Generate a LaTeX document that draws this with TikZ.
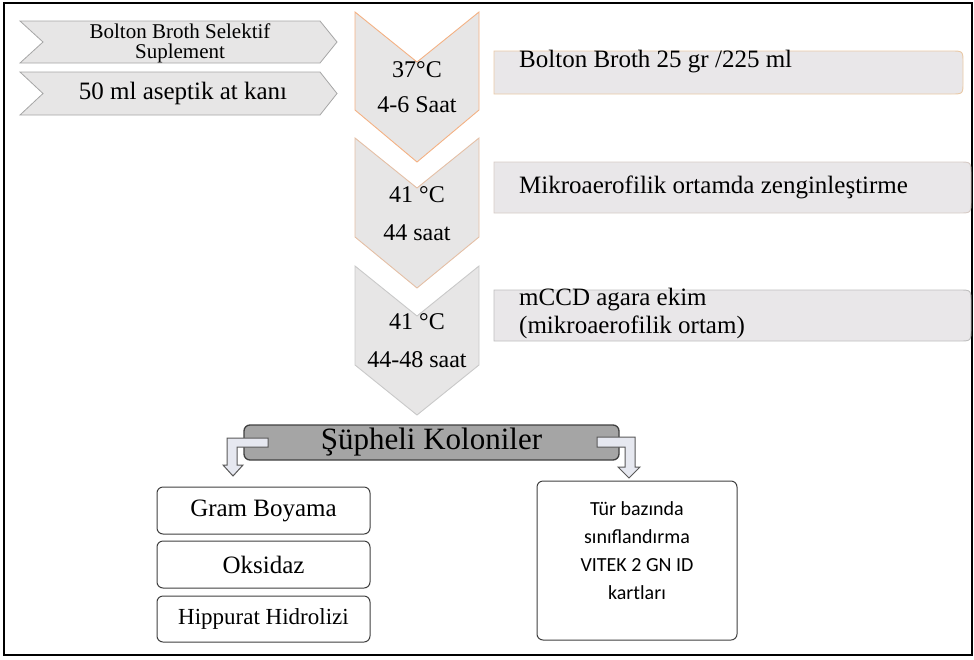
\documentclass[tikz,border=0pt]{standalone}
\usepackage{fontspec}
\setmainfont{Liberation Serif}
\newfontfamily\calibrifont{Carlito}
\usepackage{tikz}
\usetikzlibrary{positioning}

\definecolor{chevgray}{HTML}{E7E6E6}
\definecolor{hchevline}{HTML}{A6A6A6}
\definecolor{vlineone}{HTML}{F4B183}
\definecolor{vlinetwo}{HTML}{E4BFA5}
\definecolor{vlinethree}{HTML}{C9C9C9}
\definecolor{boxgray}{HTML}{E9E7E9}
\definecolor{boxlineone}{HTML}{E9C9A6}
\definecolor{boxlinetwo}{HTML}{D6CBC6}
\definecolor{boxlinethree}{HTML}{BFBFBF}
\definecolor{suspgray}{HTML}{A5A5A5}
\definecolor{darkline}{HTML}{404040}
\definecolor{arrowfill}{HTML}{E6E8F0}
\definecolor{arrowline}{HTML}{595959}

\tikzset{
  hchev/.style={fill=chevgray, draw=hchevline, line width=0.8pt},
  vchev/.style={fill=chevgray, line width=0.9pt},
  chevtext/.style={inner sep=0pt, align=center, font=\fontsize{24}{35}\selectfont},
  sidebox/.style={fill=boxgray, line width=0.9pt},
  sidetext/.style={anchor=west, inner sep=0pt, align=left, font=\fontsize{25}{28}\selectfont},
  testbox/.style={draw=darkline, fill=white, rounded corners=6pt, line width=1pt,
    minimum width=213pt, minimum height=47pt, inner sep=0pt, font=\fontsize{25}{28}\selectfont},
  bentarrow/.style={fill=arrowfill, draw=arrowline, line width=1pt, line join=miter},
}

\begin{document}
\begin{tikzpicture}[x=1pt,y=-1pt]
    \useasboundingbox (0,0) rectangle (974,659);
    \draw[line width=1.2pt] (4,3) rectangle (972,655);

    % supplements
    \draw[hchev] (20,21)--(320,21)--(337,42)--(320,63)--(20,63)--(43,42)--cycle;
    \draw[hchev] (20,72)--(320,72)--(337,93.5)--(320,115)--(20,115)--(43,93.5)--cycle;
    \node[inner sep=0pt, align=center, font=\fontsize{21}{20}\selectfont] (supp) at (180,43) {Bolton Broth Selektif\\Suplement};
    \node[inner sep=0pt, font=\fontsize{25}{28}\selectfont] (blood) at (183,93) {50 ml aseptik at kanı};

    % incubation steps
    \draw[vchev, draw=vlineone] (355,12)--(417,62)--(479,12)--(479,110)--(417,162)--(355,110)--cycle;
    \draw[vchev, draw=vlinetwo] (355,138)--(417,188)--(479,138)--(479,237)--(417,288)--(355,237)--cycle;
    \draw[vchev, draw=vlinethree] (355,266)--(417,316)--(479,266)--(479,365)--(417,415)--(355,365)--cycle;
    \node[chevtext] (incone) at (417,87.5) {37°C\\4-6 Saat};
    \node[chevtext] (inctwo) at (417,214) {41 °C\\[3pt]44 saat};
    \node[chevtext] (incthree) at (417,341) {41 °C\\[3pt]44-48 saat};

    % media
    \draw[sidebox, draw=boxlineone] (494,51)--(951,51) .. controls (963,51) .. (963,63)--(963,82) .. controls (963,94) .. (951,94)--(494,94)--cycle;
    \draw[sidebox, draw=boxlinetwo] (494,162)--(959,162) .. controls (971,162) .. (971,174)--(971,201) .. controls (971,213) .. (959,213)--(494,213)--cycle;
    \draw[sidebox, draw=boxlinethree] (494,290)--(959,290) .. controls (971,290) .. (971,302)--(971,329) .. controls (971,341) .. (959,341)--(494,341)--cycle;
    \node[sidetext] (broth) at (519,62) {Bolton Broth 25 gr /225 ml};
    \node[sidetext] (micro) at (519,187) {Mikroaerofilik ortamda zenginleştirme};
    \node[sidetext] (agar) at (519,313) {mCCD agara ekim\\(mikroaerofilik ortam)};

    % colonies
    \node[draw=darkline, fill=suspgray, rounded corners=6pt, line width=1.3pt, minimum width=375pt,
      minimum height=35pt, inner sep=0pt, font=\fontsize{31}{34}\selectfont] (susp) at (431.5,442.5) {Şüpheli Koloniler};
    \draw[bentarrow] (268,438)--(227,438)--(227,465)--(223,465)--(233,476)--(243,465)--(237,465)--(237,447)--(268,447)--cycle;
    \draw[bentarrow] (597,437)--(635,437)--(635,467)--(640,467)--(629,478)--(618,467)--(625,467)--(625,447)--(597,447)--cycle;

    % tests
    \node[testbox] (gram) at (263.5,510.5) {Gram Boyama};
    \node[testbox, below=6pt of gram] (oks) {Oksidaz};
    \node[testbox, below=7pt of oks, minimum height=46pt, font=\fontsize{23}{26}\selectfont] (hipp) {Hippurat Hidrolizi};
    \node[testbox, minimum width=200pt, minimum height=159pt] (vitek) at (637,560.5) {};
    \node[inner sep=0pt, align=center, font=\calibrifont\fontsize{20}{28}\selectfont] (vitektext) at (637,550.5) {Tür bazında\\sınıflandırma\\VITEK 2 GN ID\\kartları};
\end{tikzpicture}
\end{document}
